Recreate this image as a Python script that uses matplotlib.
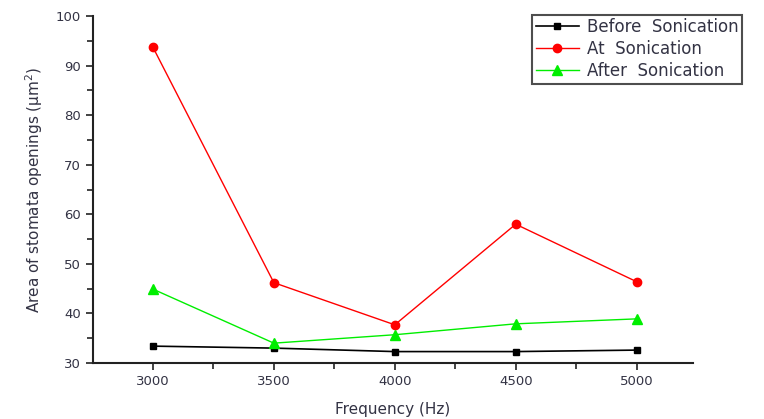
import numpy as np
import matplotlib.pyplot as plt
from matplotlib.ticker import MultipleLocator

# data
freq = [3000, 3500, 4000, 4500, 5000]
before = [33.4, 33.0, 32.3, 32.3, 32.6]
at = [93.7, 46.2, 37.7, 58.0, 46.4]
after = [44.9, 34.0, 35.7, 37.9, 38.9]

fig = plt.figure(figsize=(7.64, 4.19), dpi=100)
ax = fig.add_axes([0.1217, 0.1337, 0.785, 0.828])

ax.plot(freq, before, "-s", color="black", lw=1.2, ms=5, label="Before  Sonication")
ax.plot(freq, at, "-o", color="red", lw=1.0, ms=6, label="At  Sonication")
ax.plot(freq, after, "-^", color="#00ee00", lw=1.0, ms=7, label="After  Sonication")

ax.set_xlim(2752, 5232)
ax.set_ylim(30, 100)
ax.xaxis.set_major_locator(MultipleLocator(500))
ax.xaxis.set_minor_locator(MultipleLocator(250))
ax.yaxis.set_major_locator(MultipleLocator(10))
ax.yaxis.set_minor_locator(MultipleLocator(5))
ax.tick_params(which="both", direction="out", colors="#222222", labelcolor="#333344",
               labelsize=9.5, width=1.2)
ax.tick_params(which="major", length=5)
ax.tick_params(which="minor", length=4)

for s in ["top", "right"]:
    ax.spines[s].set_visible(False)
for s in ["left", "bottom"]:
    ax.spines[s].set_linewidth(1.5)
    ax.spines[s].set_color("#222222")

ax.set_xlabel("Frequency (Hz)", fontsize=11, color="#333344", labelpad=10)
ax.set_ylabel("Area of stomata openings (\u03bcm$^2$)", fontsize=11, color="#333344",
              labelpad=8)

leg = fig.legend(loc="upper left", bbox_to_anchor=(0.686, 0.985), fontsize=12,
                 frameon=True, fancybox=False, edgecolor="#222222",
                 borderpad=0.2, labelspacing=0.25, handlelength=2.6, handletextpad=0.5)
leg.get_frame().set_linewidth(1.5)
for t in leg.get_texts():
    t.set_color("#333344")

fig.savefig("out.png", dpi=100)
